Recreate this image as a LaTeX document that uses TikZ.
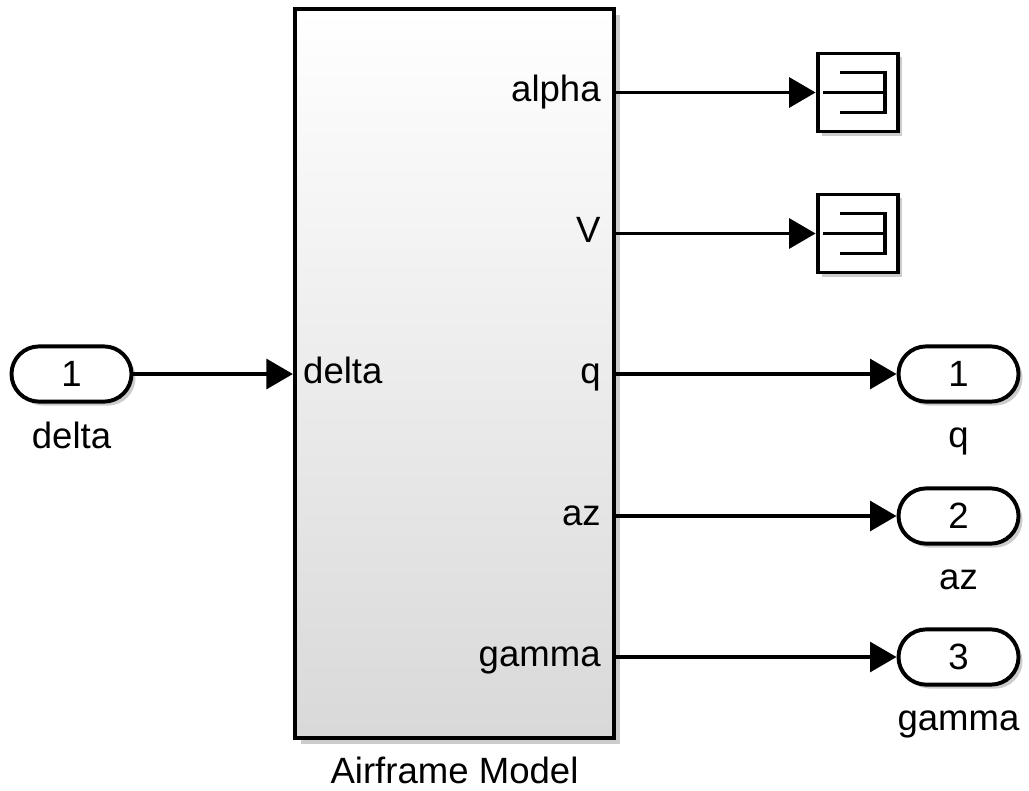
\documentclass[tikz,border=0pt]{standalone}
\usepackage{fontspec}
\setmainfont{Liberation Sans}
\usetikzlibrary{arrows.meta,positioning,shadows}
\begin{document}
\begin{tikzpicture}[x=0.025cm,y=-0.025cm,font=\fontsize{26}{30}\selectfont,
    shade/.style={drop shadow={shadow xshift=0.1cm,shadow yshift=-0.1cm,fill=black!40,opacity=0.5}},
    wire/.style={line width=2.8pt,-{Triangle[length=0.66cm,width=0.74cm]}},
    portlbl/.style={text height=19pt,text depth=5.5pt,inner xsep=0.38cm},
    ioport/.style={draw,line width=2.8pt,fill=white,shade,minimum width=3cm,minimum height=1.38cm,rounded corners=0.69cm,inner sep=0pt},
    termbox/.style={draw,line width=2.8pt,fill=white,shade,minimum width=2.02cm,minimum height=1.95cm}]
    \useasboundingbox (0,0) rectangle (1029,790);
    \node[draw,line width=2.8pt,minimum width=7.98cm,minimum height=18.22cm,top color=white,bottom color=gray!30,
        drop shadow={shadow xshift=0.15cm,shadow yshift=-0.15cm,fill=black!40,opacity=0.5}] (airframe) at (454.5,373.5) {};
    \node[below=1.08cm of airframe,anchor=base] (airframelbl) {Airframe Model};
    \node[ioport] (in1) at (71.5,374) {1};
    \node[below=1.12cm of in1,anchor=base] (in1lbl) {delta};
    \node[termbox] (term1) at (858,92.5) {};
    \node[termbox] (term2) at (858,233.5) {};
    \foreach \t in {term1,term2}
        \draw[line width=2.4pt] ([xshift=-0.875cm]\t.center) -- ([xshift=0.675cm]\t.center)
            ([xshift=-0.45cm,yshift=0.5cm]\t.center) -| ([xshift=0.675cm,yshift=-0.5cm]\t.center) -- ([xshift=-0.45cm,yshift=-0.5cm]\t.center);
    \node[ioport] (out1) at (958.5,374) {1};
    \node[ioport] (out2) at (958.5,516) {2};
    \node[ioport] (out3) at (958.5,657) {3};
    \foreach \o/\s in {out1/q,out2/az,out3/gamma}
        \node[below=1.1cm of \o,anchor=base] (\o lbl) {\s};
    \coordinate (pdelta) at (airframe.west |- in1);
    \node[portlbl,right,inner xsep=0.25cm] (ldelta) at (pdelta) {delta};
    \draw[wire] (in1) -- (pdelta);
    \foreach \p/\t in {alpha/term1,V/term2,q/out1,az/out2,gamma/out3}{
        \coordinate (p\p) at (airframe.east |- \t);
        \node[portlbl,left] (l\p) at (p\p) {\p};
        \draw[wire] (p\p) -- (\t);
    }
\end{tikzpicture}
\end{document}
